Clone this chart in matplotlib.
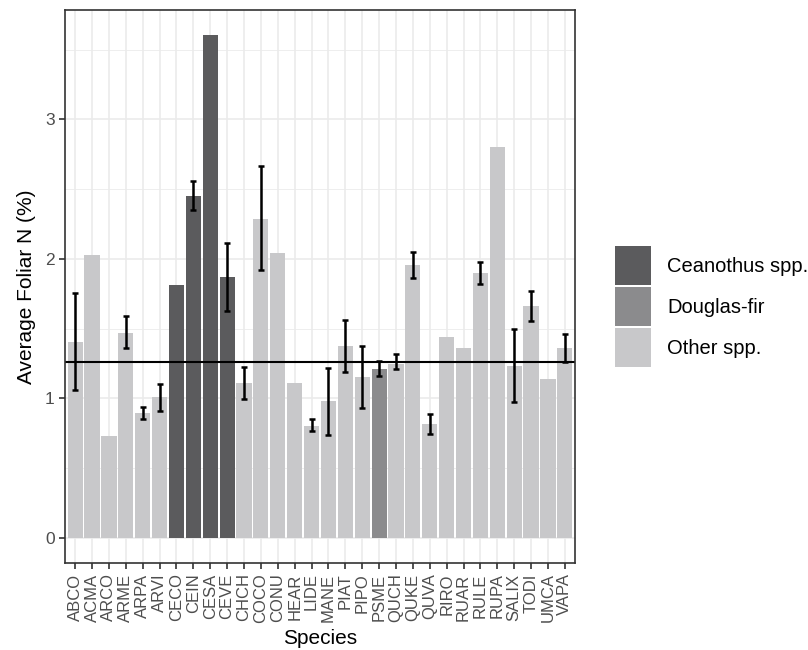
import numpy as np
import matplotlib
matplotlib.use("Agg")
import matplotlib.pyplot as plt
from matplotlib.patches import Patch

plt.rcParams['font.family'] = ['Liberation Sans', 'DejaVu Sans']

species = ["ABCO", "ACMA", "ARCO", "ARME", "ARPA", "ARVI", "CECO", "CEIN", "CESA", "CEVE",
           "CHCH", "COCO", "CONU", "HEAR", "LIDE", "MANE", "PIAT", "PIPO", "PSME", "QUCH",
           "QUKE", "QUVA", "RIRO", "RUAR", "RULE", "RUPA", "SALIX", "TODI", "UMCA", "VAPA"]
groups = ["Other spp."] * 6 + ["Ceanothus spp."] * 4 + ["Other spp."] * 8 + ["Douglas-fir"] + ["Other spp."] * 11
foliar_n = [1.405, 2.03, 0.727, 1.472, 0.894, 1.01, 1.816, 2.453, 3.604, 1.867,
            1.11, 2.289, 2.042, 1.107, 0.804, 0.981, 1.379, 1.153, 1.212, 1.246,
            1.955, 0.814, 1.441, 1.361, 1.901, 2.80, 1.233, 1.665, 1.14, 1.361]
err_low = [1.061, np.nan, np.nan, 1.36, 0.853, 0.91, np.nan, 2.35, np.nan, 1.623,
           0.997, 1.919, np.nan, np.nan, 0.763, 0.74, 1.189, 0.93, 1.161, 1.207,
           1.86, 0.742, np.nan, np.nan, 1.821, np.nan, 0.971, 1.554, np.nan, 1.264]
err_high = [1.754, np.nan, np.nan, 1.59, 0.94, 1.10, np.nan, 2.556, np.nan, 2.114,
            1.225, 2.664, np.nan, np.nan, 0.855, 1.22, 1.564, 1.374, 1.266, 1.318,
            2.052, 0.886, np.nan, np.nan, 1.978, np.nan, 1.498, 1.767, np.nan, 1.462]
overall_mean = 1.259

group_order = ["Ceanothus spp.", "Douglas-fir", "Other spp."]
group_colors = {"Ceanothus spp.": "#5B5B5D", "Douglas-fir": "#8B8B8D", "Other spp.": "#C8C8CA"}

W, H = 808, 650
fig = plt.figure(figsize=(W / 100, H / 100), dpi=100)
ax = fig.add_axes([65 / W, 1 - 563 / H, (575 - 65) / W, (563 - 10) / H])

x = np.arange(len(species))
vals = np.array(foliar_n)
lo = np.array(err_low)
hi = np.array(err_high)

ymax = np.nanmax(np.concatenate([vals, hi]))
pad = ymax * 0.05
ax.set_xlim(-0.6, len(species) - 0.4)
ax.set_ylim(-pad, ymax + pad)

# grid
ax.set_facecolor("white")
for yv in [0.5, 1.5, 2.5, 3.5]:
    ax.axhline(yv, color="#EBEBEB", lw=0.6, zorder=0)
for yv in [0, 1, 2, 3]:
    ax.axhline(yv, color="#EBEBEB", lw=1.2, zorder=0)
for xv in x:
    ax.axvline(xv, color="#EBEBEB", lw=1.2, zorder=0)

colors = [group_colors[g] for g in groups]
ax.bar(x, vals, width=0.9, color=colors, zorder=2)

mask = ~np.isnan(lo)
ax.errorbar(x[mask], (lo[mask] + hi[mask]) / 2, yerr=(hi[mask] - lo[mask]) / 2,
            fmt="none", ecolor="black", elinewidth=1.8, capsize=2.5, capthick=1.8, zorder=4)

ax.axhline(overall_mean, color="black", lw=1.5, zorder=3)

ax.set_xticks(x)
ax.set_xticklabels(species, rotation=90, fontsize=12, color="#4D4D4D")
ax.set_yticks([0, 1, 2, 3])
ax.set_yticklabels(["0", "1", "2", "3"], fontsize=12.5, color="#4D4D4D")
ax.tick_params(axis="both", length=4.5, width=1.2, color="#333333", pad=3)
for s in ax.spines.values():
    s.set_color("#333333")
    s.set_linewidth(1.2)
    s.set_zorder(5)

ax.set_xlabel("Species", fontsize=15, labelpad=4)
ax.set_ylabel("Average Foliar N (%)", fontsize=15, labelpad=6)

handles = [Patch(facecolor=group_colors[g], edgecolor="none", label=g) for g in group_order]
fig.legend(handles=handles, loc="upper left", bbox_to_anchor=(615 / W, 1 - 246 / H),
           frameon=False, fontsize=14.5, handlelength=1.8, handleheight=2.6,
           handletextpad=0.8, labelspacing=0.1, borderpad=0, borderaxespad=0)

fig.savefig("out.png", dpi=100)
